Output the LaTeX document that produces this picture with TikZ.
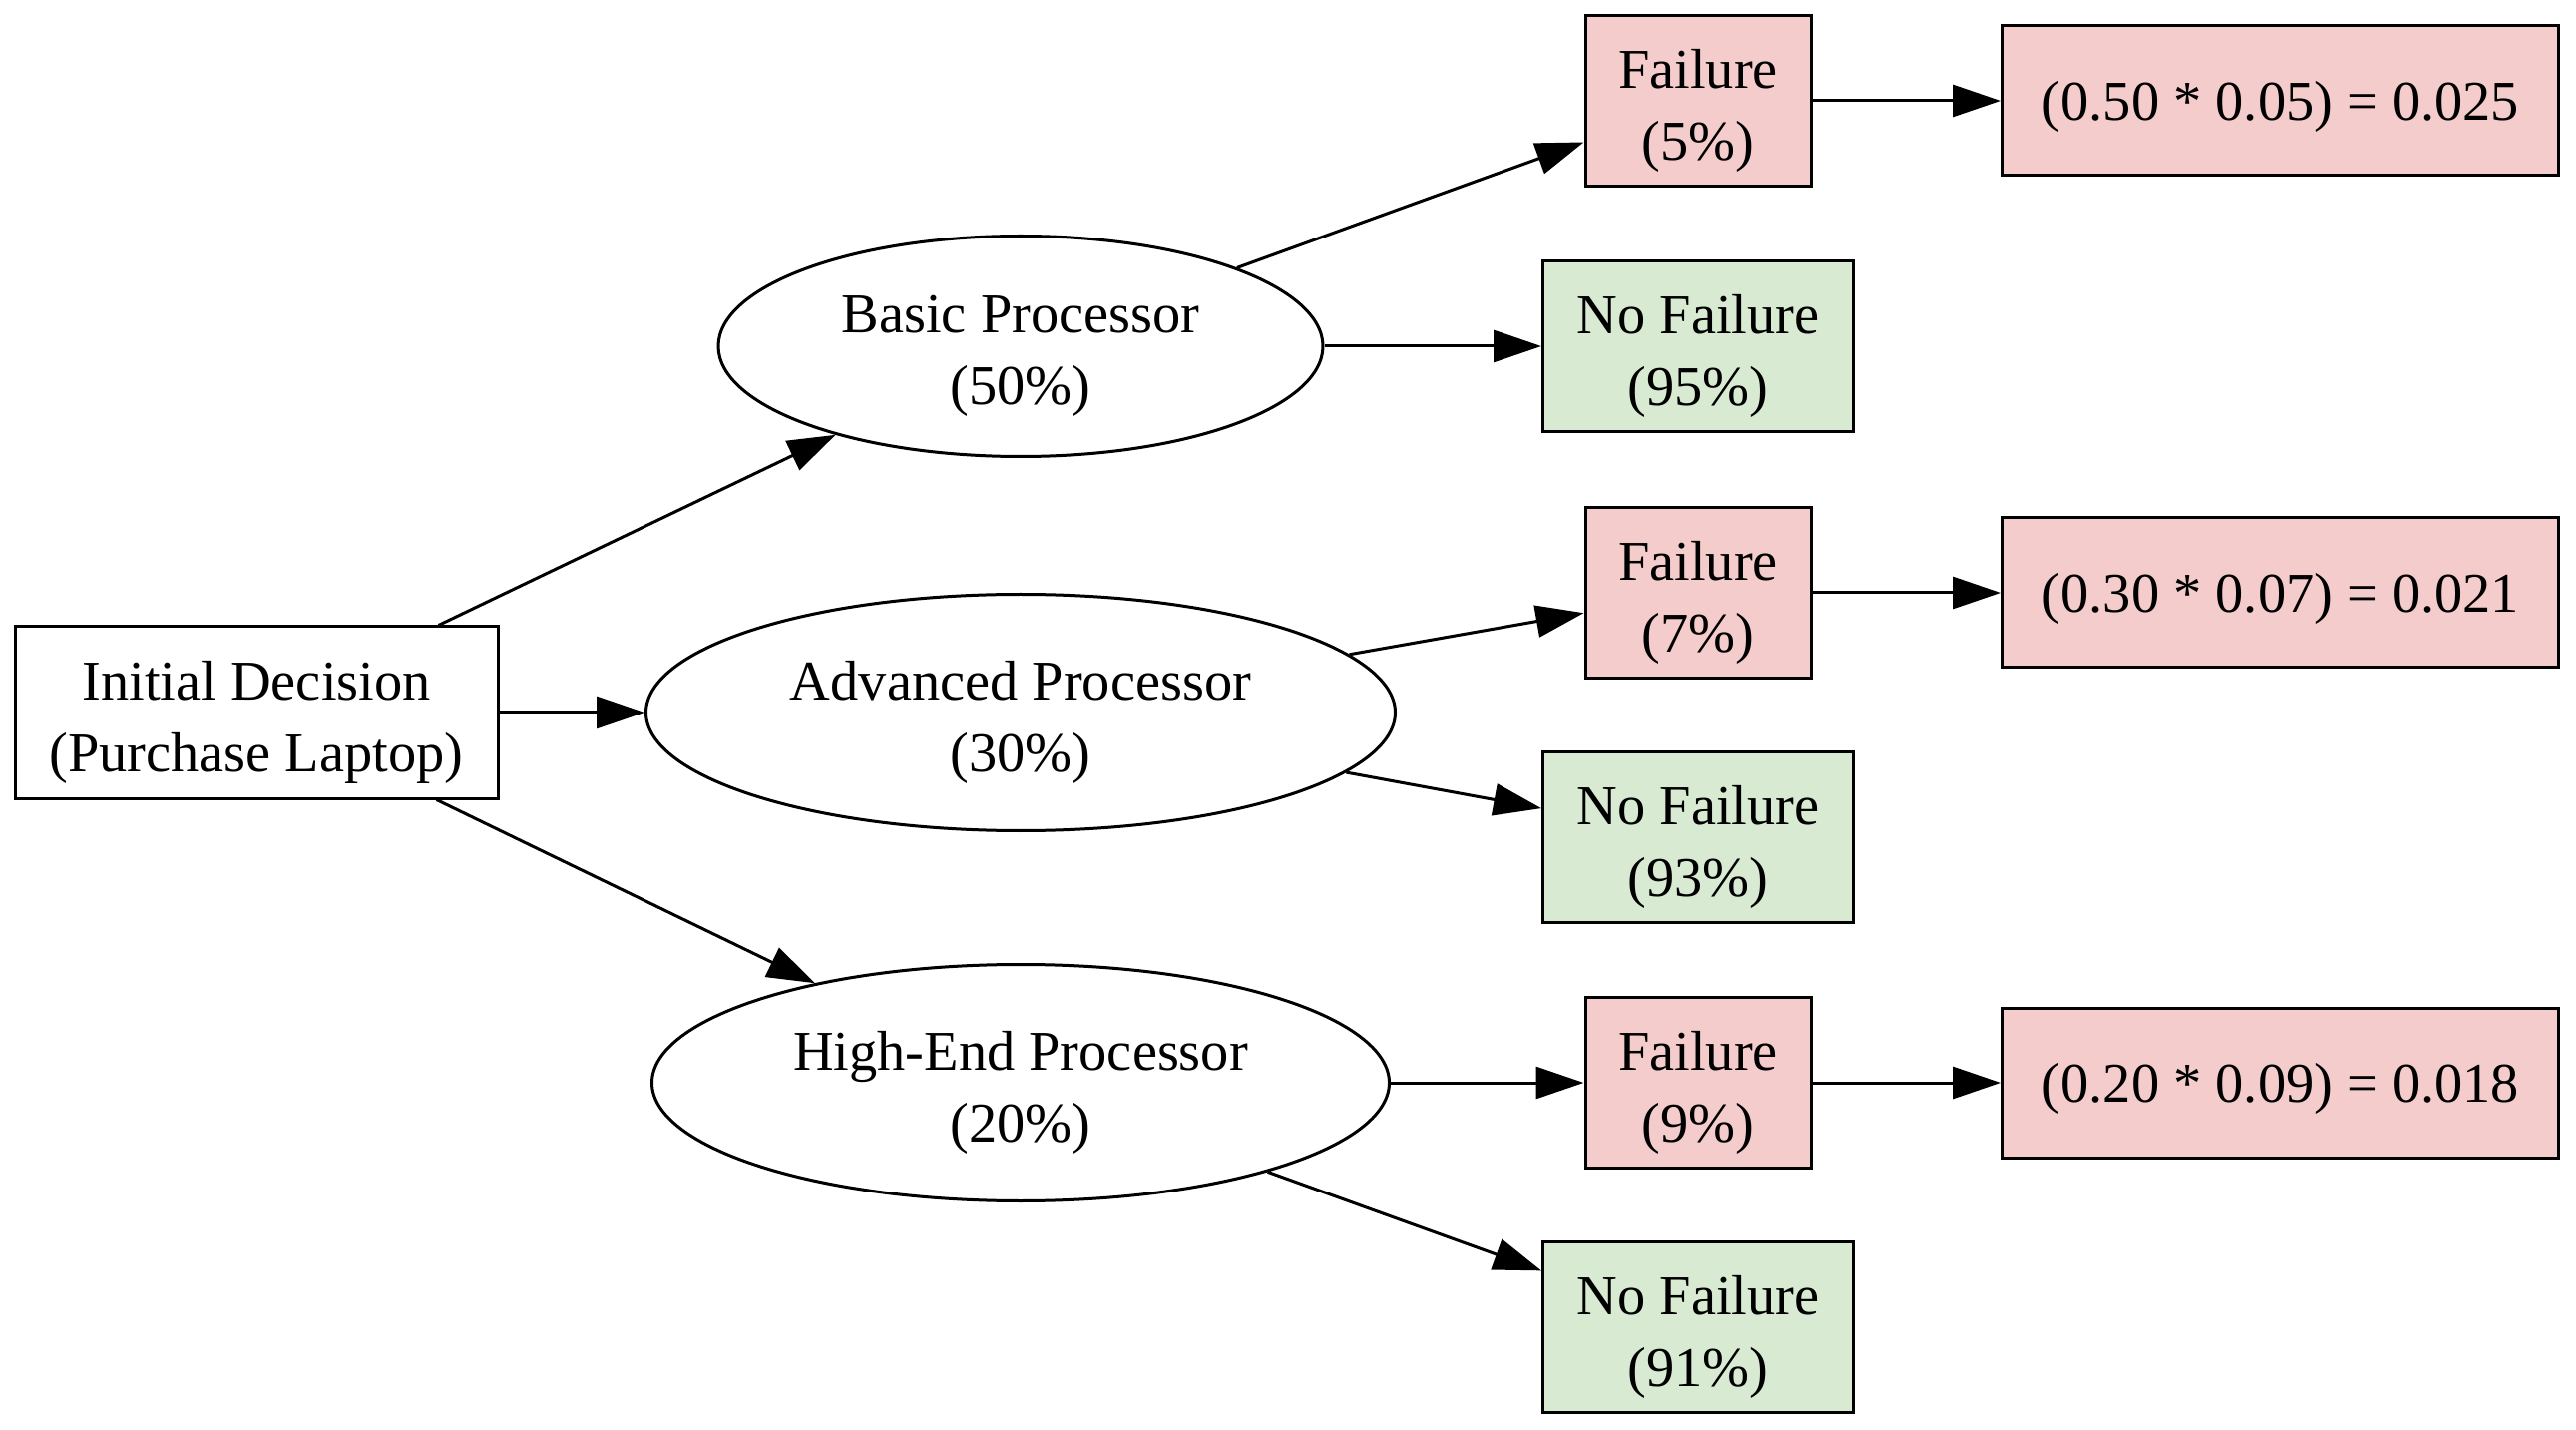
\documentclass[tikz,border=0pt]{standalone}
\usepackage{fontspec}
\setmainfont{Liberation Serif}
\usetikzlibrary{shapes.geometric,arrows.meta}
\definecolor{failpink}{HTML}{F4CCCC}
\definecolor{okgreen}{HTML}{D9EAD3}
\begin{document}
\begin{tikzpicture}[x=0.25pt,y=-0.25pt,
  base/.style={draw=black,line width=0.75pt,inner sep=0pt},
  lbl/.style={inner sep=0pt,align=center,font=\fontsize{14.1}{18}\selectfont},
  twoline/.style={lbl,yshift=-2.4pt},
  oneline/.style={lbl,yshift=-1.6pt},
  decbox/.style={base,rectangle,minimum width=121pt,minimum height=43pt},
  procell/.style={base,ellipse},
  failbox/.style={base,rectangle,fill=failpink,minimum width=56.5pt,minimum height=42.75pt},
  okbox/.style={base,rectangle,fill=okgreen,minimum width=77.75pt,minimum height=42.75pt},
  resbox/.style={base,rectangle,fill=failpink,minimum width=139.25pt,minimum height=37.5pt},
  edge/.style={line width=0.75pt,-{Triangle[length=12pt,width=8pt]}}]
\useasboundingbox (0,0) rectangle (2582,1433);
\node[decbox] (init) at (257,714) {};
\node[procell,minimum width=151.5pt,minimum height=55.25pt] (basic) at (1023,347) {};
\node[procell,minimum width=187.75pt,minimum height=59.25pt] (adv) at (1023,714) {};
\node[procell,minimum width=184.75pt,minimum height=59.25pt] (high) at (1023,1085) {};
\node[failbox] (f1) at (1702,101) {};
\node[okbox] (n1) at (1702,347) {};
\node[failbox] (f2) at (1702,594) {};
\node[okbox] (n2) at (1702,839) {};
\node[failbox] (f3) at (1702,1085) {};
\node[okbox] (n3) at (1702,1330) {};
\node[resbox] (r1) at (2286,101) {};
\node[resbox] (r2) at (2286,594) {};
\node[resbox] (r3) at (2286,1085) {};
\node[twoline] (init-t) at (init.center) {Initial Decision\\(Purchase Laptop)};
\node[twoline] (basic-t) at (basic.center) {Basic Processor\\(50\%)};
\node[twoline] (adv-t) at (adv.center) {Advanced Processor\\(30\%)};
\node[twoline] (high-t) at (high.center) {High-End Processor\\(20\%)};
\node[twoline] (f1-t) at (f1.center) {Failure\\(5\%)};
\node[twoline] (n1-t) at (n1.center) {No Failure\\(95\%)};
\node[twoline] (f2-t) at (f2.center) {Failure\\(7\%)};
\node[twoline] (n2-t) at (n2.center) {No Failure\\(93\%)};
\node[twoline] (f3-t) at (f3.center) {Failure\\(9\%)};
\node[twoline] (n3-t) at (n3.center) {No Failure\\(91\%)};
\node[oneline] (r1-t) at (r1.center) {(0.50 * 0.05) = 0.025};
\node[oneline] (r2-t) at (r2.center) {(0.30 * 0.07) = 0.021};
\node[oneline] (r3-t) at (r3.center) {(0.20 * 0.09) = 0.018};
\draw[edge] (init) -- (basic);
\draw[edge] (init) -- (adv);
\draw[edge] (init) -- (high);
\draw[edge] (basic) -- (f1);
\draw[edge] (basic) -- (n1);
\draw[edge] (adv) -- (f2);
\draw[edge] (adv) -- (n2);
\draw[edge] (high) -- (f3);
\draw[edge] (high) -- (n3);
\draw[edge] (f1) -- (r1);
\draw[edge] (f2) -- (r2);
\draw[edge] (f3) -- (r3);
\end{tikzpicture}
\end{document}
